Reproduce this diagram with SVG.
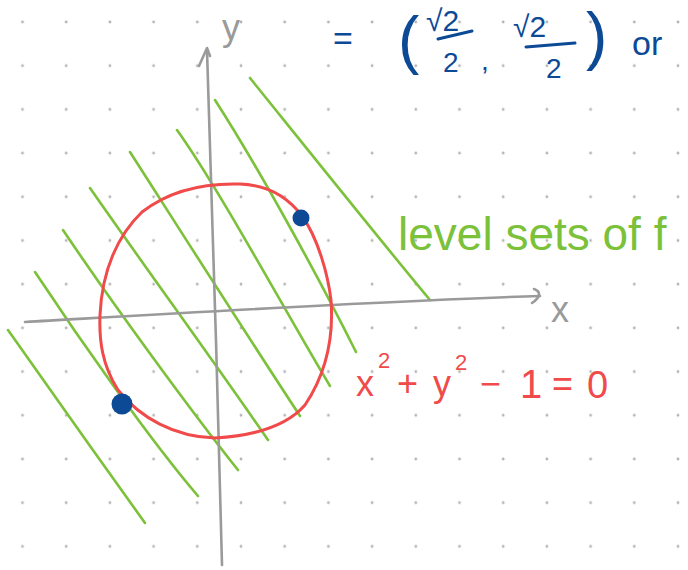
<svg xmlns="http://www.w3.org/2000/svg" width="688" height="570" viewBox="0 0 688 570">
<defs>
<pattern id="dots" x="0.65" y="0.15" width="43.7" height="43.7" patternUnits="userSpaceOnUse">
<circle cx="21.85" cy="21.85" r="1.4" fill="#b4b4b4"/>
</pattern>
<style>
.g{fill:none;stroke:#7cc13a;stroke-width:2.6;stroke-linecap:round;stroke-linejoin:round}
.ax{fill:none;stroke:#9a9a9a;stroke-width:2.6;stroke-linecap:round;stroke-linejoin:round}
.red{fill:none;stroke:#f04a4a;stroke-width:3;stroke-linecap:round}
.bl{fill:none;stroke:#0d4a96;stroke-width:3;stroke-linecap:round}
.t{font-family:"Liberation Sans",Arial,sans-serif}
.tb{fill:#0d4a96}
.tg{fill:#7cc13a}
.tr{fill:#f04a4a}
.tx{fill:#9a9a9a}
</style>
</defs>
<rect width="688" height="570" fill="#fff"/>
<g id="grid">
<rect x="0" y="0" width="688" height="570" fill="url(#dots)"/>
</g>
<g id="connectors">
<g id="levelsets">
<path class="g" d="M250,78 C300,140 380,240 430,300"/>
<path class="g" d="M215,100 C260,170 320,280 356,352"/>
<path class="g" d="M177,130 C220,190 290,320 330,386"/>
<path class="g" d="M130,152 C180,230 250,340 300,416"/>
<path class="g" d="M90,188 C140,260 220,370 268,440"/>
<path class="g" d="M63,230 C110,300 190,410 238,470"/>
<path class="g" d="M35,272 C80,340 150,440 198,496"/>
<path class="g" d="M8,330 C50,390 100,460 145,523"/>
</g>
<g id="axes">
<path class="ax" d="M207,50 C212,200 218,400 222,565"/>
<path class="ax" d="M199,66 L207,48 L210,56"/>
<path class="ax" d="M25,322 C200,312 400,300 540,296"/>
<path class="ax" d="M534,289 C540,291 542,296 532,303"/>
</g>
<path id="circle" class="red" d="M240,184 C270,185 290,200 302,216 C318,238 328,275 331,300 C334,340 325,375 305,405 C285,428 250,436 215,438 C175,437 140,418 118,390 C102,365 99,340 100,315 C102,270 118,235 142,212 C170,190 205,183 240,184 Z"/>
</g>
<g id="dot1"><circle cx="301" cy="218" r="8.5" fill="#0d4a96"/></g>
<g id="dot2"><circle cx="122" cy="404" r="10.5" fill="#0d4a96"/></g>
<g id="ylabel"><text class="t tx" x="222" y="40" font-size="36">y</text></g>
<g id="xlabel"><text class="t tx" x="551" y="322" font-size="36">x</text></g>
<g id="equation">
<text class="t tb" x="333" y="50" font-size="34">=</text>
<text class="t tb" x="398" y="62" font-size="64">(</text>
<text class="t tb" x="426" y="31" font-size="30">√2</text>
<path class="bl" d="M438,39 L472,31"/>
<text class="t tb" x="443" y="72" font-size="28">2</text>
<text class="t tb" x="481" y="70" font-size="28">,</text>
<text class="t tb" x="513" y="37" font-size="30">√2</text>
<path class="bl" d="M526,47 L575,43"/>
<text class="t tb" x="546" y="78" font-size="28">2</text>
<text class="t tb" x="586" y="58" font-size="64">)</text>
<text class="t tb" x="632" y="55" font-size="34">or</text>
</g>
<g id="levellabel">
<text class="t tg" x="398" y="250" font-size="46">level sets of f</text>
</g>
<g id="constraint">
<text class="t tr" x="356" y="396" font-size="36">x</text>
<text class="t tr" x="378" y="368" font-size="22">2</text>
<text class="t tr" x="397" y="396" font-size="36">+</text>
<text class="t tr" x="433" y="396" font-size="36">y</text>
<text class="t tr" x="455" y="370" font-size="22">2</text>
<text class="t tr" x="480" y="396" font-size="36">−</text>
<text class="t tr" x="520" y="398" font-size="40">1</text>
<text class="t tr" x="552" y="396" font-size="36">=</text>
<text class="t tr" x="587" y="398" font-size="38">0</text>
</g>
</svg>
